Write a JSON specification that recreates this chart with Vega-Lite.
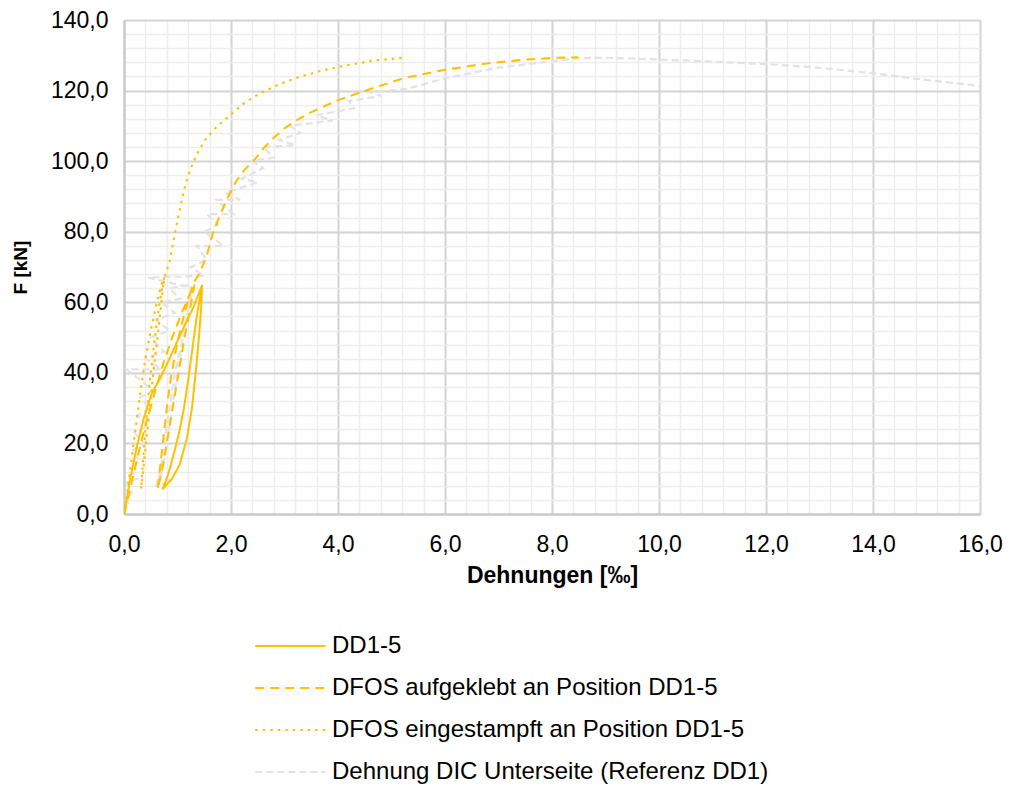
{
  "$schema": "https://vega.github.io/schema/vega-lite/v6.json",
  "autosize": {"type": "none"},
  "width": 856,
  "height": 494,
  "padding": {"left": 124, "top": 20, "right": 30, "bottom": 278},
  "background": "white",
  "config": {
    "locale": {"number": {"decimal": ",", "thousands": ".", "grouping": [3], "currency": ["", " €"]}},
    "view": {"stroke": null},
    "font": "Liberation Sans"
  },
  "data": {"values": [
    {"s":"DIC","i":1,"x":0,"f":0},{"s":"DIC","i":2,"x":0.08,"f":3},{"s":"DIC","i":3,"x":0.02,"f":5},{"s":"DIC","i":4,"x":0.15,"f":6},{"s":"DIC","i":5,"x":0.05,"f":9},{"s":"DIC","i":6,"x":0.25,"f":10},{"s":"DIC","i":7,"x":0.12,"f":13},{"s":"DIC","i":8,"x":0.3,"f":15},{"s":"DIC","i":9,"x":0.15,"f":18},{"s":"DIC","i":10,"x":0.38,"f":20},{"s":"DIC","i":11,"x":0.2,"f":23},{"s":"DIC","i":12,"x":0.45,"f":25},{"s":"DIC","i":13,"x":0.25,"f":28},{"s":"DIC","i":14,"x":0.5,"f":30},{"s":"DIC","i":15,"x":0.3,"f":33},{"s":"DIC","i":16,"x":0.55,"f":35},{"s":"DIC","i":17,"x":0.05,"f":41},{"s":"DIC","i":18,"x":0.7,"f":41},{"s":"DIC","i":19,"x":0.4,"f":44},{"s":"DIC","i":20,"x":0.75,"f":46},{"s":"DIC","i":21,"x":0.5,"f":50},{"s":"DIC","i":22,"x":0.85,"f":52},{"s":"DIC","i":23,"x":0.6,"f":55},{"s":"DIC","i":24,"x":0.95,"f":57},{"s":"DIC","i":25,"x":0.7,"f":60},{"s":"DIC","i":26,"x":1.05,"f":61},{"s":"DIC","i":27,"x":0.85,"f":64},{"s":"DIC","i":28,"x":1.25,"f":65},
    {"s":"DIC","i":29,"x":1.2,"f":58},{"s":"DIC","i":30,"x":1.1,"f":50},{"s":"DIC","i":31,"x":0.95,"f":40},{"s":"DIC","i":32,"x":0.85,"f":30},{"s":"DIC","i":33,"x":0.75,"f":20},{"s":"DIC","i":34,"x":0.68,"f":12},{"s":"DIC","i":35,"x":0.6,"f":8},{"s":"DIC","i":36,"x":0.9,"f":9},{"s":"DIC","i":37,"x":0.7,"f":11},{"s":"DIC","i":38,"x":0.8,"f":20},{"s":"DIC","i":39,"x":0.9,"f":30},{"s":"DIC","i":40,"x":1.0,"f":40},{"s":"DIC","i":41,"x":1.1,"f":50},{"s":"DIC","i":42,"x":1.2,"f":58},{"s":"DIC","i":43,"x":1.3,"f":64},{"s":"DIC","i":44,"x":0.45,"f":67},{"s":"DIC","i":45,"x":1.5,"f":67.5},{"s":"DIC","i":46,"x":1.25,"f":70},{"s":"DIC","i":47,"x":1.55,"f":72},{"s":"DIC","i":48,"x":1.36,"f":76},{"s":"DIC","i":49,"x":1.86,"f":76},{"s":"DIC","i":50,"x":1.5,"f":80},{"s":"DIC","i":51,"x":1.75,"f":82},{"s":"DIC","i":52,"x":1.55,"f":85},{"s":"DIC","i":53,"x":2.04,"f":85},{"s":"DIC","i":54,"x":1.73,"f":89},{"s":"DIC","i":55,"x":2.17,"f":89},{"s":"DIC","i":56,"x":1.9,"f":91},{"s":"DIC","i":57,"x":2.5,"f":94},{"s":"DIC","i":58,"x":2.2,"f":95},{"s":"DIC","i":59,"x":2.6,"f":98},{"s":"DIC","i":60,"x":2.4,"f":100},{"s":"DIC","i":61,"x":2.8,"f":101},{"s":"DIC","i":62,"x":2.6,"f":104},{"s":"DIC","i":63,"x":3.2,"f":104.5},{"s":"DIC","i":64,"x":2.9,"f":106},{"s":"DIC","i":65,"x":3.3,"f":108},{"s":"DIC","i":66,"x":3.1,"f":110},{"s":"DIC","i":67,"x":3.9,"f":111.5},{"s":"DIC","i":68,"x":3.6,"f":113},{"s":"DIC","i":69,"x":4.3,"f":115},{"s":"DIC","i":70,"x":4.2,"f":117},{"s":"DIC","i":71,"x":4.8,"f":118.5},{"s":"DIC","i":72,"x":4.6,"f":119.5},{"s":"DIC","i":73,"x":5.3,"f":120.5},{"s":"DIC","i":74,"x":6.0,"f":123.5},{"s":"DIC","i":75,"x":7.0,"f":126.5},{"s":"DIC","i":76,"x":8.0,"f":128.3},{"s":"DIC","i":77,"x":8.5,"f":129.2},{"s":"DIC","i":78,"x":9.0,"f":129.3},{"s":"DIC","i":79,"x":10.0,"f":128.8},{"s":"DIC","i":80,"x":11.0,"f":128.2},{"s":"DIC","i":81,"x":12.0,"f":127.5},{"s":"DIC","i":82,"x":12.7,"f":126.8},{"s":"DIC","i":83,"x":13.3,"f":126},{"s":"DIC","i":84,"x":14.0,"f":124.9},{"s":"DIC","i":85,"x":15.0,"f":123},{"s":"DIC","i":86,"x":16.0,"f":121.3},
    {"s":"DD","i":1,"x":0,"f":0},{"s":"DD","i":2,"x":0.05,"f":4},{"s":"DD","i":3,"x":0.11,"f":9.6},{"s":"DD","i":4,"x":0.24,"f":19},{"s":"DD","i":5,"x":0.36,"f":26.6},{"s":"DD","i":6,"x":0.52,"f":34.2},{"s":"DD","i":7,"x":0.66,"f":38},{"s":"DD","i":8,"x":0.82,"f":43},{"s":"DD","i":9,"x":0.98,"f":48.4},{"s":"DD","i":10,"x":1.15,"f":54},{"s":"DD","i":11,"x":1.3,"f":58.7},{"s":"DD","i":12,"x":1.46,"f":64.9},{"s":"DD","i":13,"x":1.44,"f":58},{"s":"DD","i":14,"x":1.4,"f":50},{"s":"DD","i":15,"x":1.34,"f":40},{"s":"DD","i":16,"x":1.27,"f":30},{"s":"DD","i":17,"x":1.17,"f":21},{"s":"DD","i":18,"x":1.04,"f":14},{"s":"DD","i":19,"x":0.9,"f":10},{"s":"DD","i":20,"x":0.72,"f":7},{"s":"DD","i":21,"x":0.82,"f":11},{"s":"DD","i":22,"x":0.93,"f":17},{"s":"DD","i":23,"x":1.03,"f":23},{"s":"DD","i":24,"x":1.12,"f":30},{"s":"DD","i":25,"x":1.2,"f":38},{"s":"DD","i":26,"x":1.28,"f":47},{"s":"DD","i":27,"x":1.36,"f":56},{"s":"DD","i":28,"x":1.46,"f":64.9},
    {"s":"AUF","i":1,"x":0,"f":0},{"s":"AUF","i":2,"x":0.1,"f":6},{"s":"AUF","i":3,"x":0.25,"f":16},{"s":"AUF","i":4,"x":0.4,"f":25},{"s":"AUF","i":5,"x":0.55,"f":33},{"s":"AUF","i":6,"x":0.72,"f":42},{"s":"AUF","i":7,"x":0.9,"f":50},{"s":"AUF","i":8,"x":1.08,"f":57},{"s":"AUF","i":9,"x":1.22,"f":62},{"s":"AUF","i":10,"x":1.32,"f":65},{"s":"AUF","i":11,"x":1.22,"f":57},{"s":"AUF","i":12,"x":1.12,"f":49},{"s":"AUF","i":13,"x":1.02,"f":40},{"s":"AUF","i":14,"x":0.92,"f":31},{"s":"AUF","i":15,"x":0.82,"f":22},{"s":"AUF","i":16,"x":0.72,"f":13},{"s":"AUF","i":17,"x":0.63,"f":7},{"s":"AUF","i":18,"x":0.68,"f":14},{"s":"AUF","i":19,"x":0.74,"f":22},{"s":"AUF","i":20,"x":0.8,"f":30},{"s":"AUF","i":21,"x":0.87,"f":38},{"s":"AUF","i":22,"x":0.95,"f":45},{"s":"AUF","i":23,"x":1.05,"f":52},{"s":"AUF","i":24,"x":1.15,"f":58},{"s":"AUF","i":25,"x":1.25,"f":63},{"s":"AUF","i":26,"x":1.32,"f":66},{"s":"AUF","i":27,"x":1.42,"f":68.5},{"s":"AUF","i":28,"x":1.55,"f":73.4},{"s":"AUF","i":29,"x":1.65,"f":79},{"s":"AUF","i":30,"x":1.75,"f":83},{"s":"AUF","i":31,"x":1.86,"f":87},{"s":"AUF","i":32,"x":1.98,"f":91},{"s":"AUF","i":33,"x":2.11,"f":94.6},{"s":"AUF","i":34,"x":2.25,"f":97.5},{"s":"AUF","i":35,"x":2.42,"f":100},{"s":"AUF","i":36,"x":2.6,"f":103.5},{"s":"AUF","i":37,"x":2.79,"f":106.5},{"s":"AUF","i":38,"x":3.0,"f":109.3},{"s":"AUF","i":39,"x":3.23,"f":111.6},{"s":"AUF","i":40,"x":3.45,"f":113.5},{"s":"AUF","i":41,"x":3.66,"f":115},{"s":"AUF","i":42,"x":4.04,"f":117.5},{"s":"AUF","i":43,"x":4.54,"f":120.1},{"s":"AUF","i":44,"x":5.22,"f":123.5},{"s":"AUF","i":45,"x":5.97,"f":125.8},{"s":"AUF","i":46,"x":6.78,"f":127.7},{"s":"AUF","i":47,"x":7.53,"f":128.8},{"s":"AUF","i":48,"x":8.09,"f":129.3},{"s":"AUF","i":49,"x":8.49,"f":129.4},
    {"s":"EIN","i":1,"x":0,"f":0},{"s":"EIN","i":2,"x":0.06,"f":6},{"s":"EIN","i":3,"x":0.12,"f":13},{"s":"EIN","i":4,"x":0.18,"f":20},{"s":"EIN","i":5,"x":0.25,"f":28},{"s":"EIN","i":6,"x":0.32,"f":36},{"s":"EIN","i":7,"x":0.4,"f":44},{"s":"EIN","i":8,"x":0.5,"f":52},{"s":"EIN","i":9,"x":0.6,"f":59},{"s":"EIN","i":10,"x":0.7,"f":65},{"s":"EIN","i":11,"x":0.75,"f":67},{"s":"EIN","i":12,"x":0.7,"f":60},{"s":"EIN","i":13,"x":0.64,"f":52},{"s":"EIN","i":14,"x":0.57,"f":43},{"s":"EIN","i":15,"x":0.5,"f":33},{"s":"EIN","i":16,"x":0.43,"f":23},{"s":"EIN","i":17,"x":0.37,"f":14},{"s":"EIN","i":18,"x":0.32,"f":7},{"s":"EIN","i":19,"x":0.35,"f":14},{"s":"EIN","i":20,"x":0.39,"f":22},{"s":"EIN","i":21,"x":0.44,"f":31},{"s":"EIN","i":22,"x":0.5,"f":40},{"s":"EIN","i":23,"x":0.56,"f":48},{"s":"EIN","i":24,"x":0.63,"f":56},{"s":"EIN","i":25,"x":0.7,"f":63},{"s":"EIN","i":26,"x":0.78,"f":68},{"s":"EIN","i":27,"x":0.86,"f":72},{"s":"EIN","i":28,"x":0.95,"f":79.5},{"s":"EIN","i":29,"x":1.01,"f":84},{"s":"EIN","i":30,"x":1.08,"f":89},{"s":"EIN","i":31,"x":1.16,"f":94},{"s":"EIN","i":32,"x":1.26,"f":98.4},{"s":"EIN","i":33,"x":1.38,"f":102.5},{"s":"EIN","i":34,"x":1.54,"f":106.5},{"s":"EIN","i":35,"x":1.75,"f":110},{"s":"EIN","i":36,"x":1.98,"f":113},{"s":"EIN","i":37,"x":2.25,"f":116.5},{"s":"EIN","i":38,"x":2.54,"f":119.2},{"s":"EIN","i":39,"x":2.9,"f":121.8},{"s":"EIN","i":40,"x":3.29,"f":123.9},{"s":"EIN","i":41,"x":3.65,"f":125.5},{"s":"EIN","i":42,"x":4.04,"f":126.8},{"s":"EIN","i":43,"x":4.66,"f":128.5},{"s":"EIN","i":44,"x":5.22,"f":129.3}
  ]},
  "encoding": {
    "color": {
      "field": "s", "type": "nominal",
      "scale": {"domain": ["DD", "AUF", "EIN", "DIC"], "range": ["#FFC000", "#FFC000", "#FFC000", "#E3E3E3"]},
      "legend": {
        "orient": "none", "legendX": 128, "legendY": 614, "title": null,
        "symbolType": "M-1,0H7", "symbolSize": 306.25, "symbolStrokeWidth": 2, "symbolFillColor": "transparent",
        "labelFontSize": 24, "labelColor": "#000000", "labelFont": "Liberation Sans",
        "rowPadding": 18, "labelOffset": 56, "labelLimit": 700,
        "labelExpr": "datum.value == 'DD' ? 'DD1-5' : datum.value == 'AUF' ? 'DFOS aufgeklebt an Position DD1-5' : datum.value == 'EIN' ? 'DFOS eingestampft an Position DD1-5' : 'Dehnung DIC Unterseite (Referenz DD1)'"
      }
    },
    "strokeDash": {
      "field": "s", "type": "nominal",
      "scale": {"domain": ["DD", "AUF", "EIN", "DIC"], "range": [[1, 0], [9, 6], [2.5, 5], [7, 4]]},
      "legend": null
    },
    "strokeWidth": {
      "field": "s", "type": "nominal",
      "scale": {"domain": ["DD", "AUF", "EIN", "DIC"], "range": [2, 2.2, 2.6, 2]},
      "legend": null
    },
    "order": {"field": "i", "type": "quantitative"}
  },
  "layer": [
    {
      "transform": [{"filter": "datum.s == 'DIC'"}],
      "mark": {"type": "line", "clip": true},
      "encoding": {
        "x": {"field": "x", "type": "quantitative", "scale": {"domain": [0, 16], "nice": false},
          "axis": {"orient": "bottom", "values": [0.4,0.8,1.2,1.6,2.4,2.8,3.2,3.6,4.4,4.8,5.2,5.6,6.4,6.8,7.2,7.6,8.4,8.8,9.2,9.6,10.4,10.8,11.2,11.6,12.4,12.8,13.2,13.6,14.4,14.8,15.2,15.6],
            "grid": true, "gridColor": "#EDEDED", "gridWidth": 1.5, "labels": false, "ticks": false, "domain": false, "title": null}},
        "y": {"field": "f", "type": "quantitative", "scale": {"domain": [0, 140], "nice": false},
          "axis": {"orient": "left", "values": [4,8,12,16,24,28,32,36,44,48,52,56,64,68,72,76,84,88,92,96,104,108,112,116,124,128,132,136],
            "grid": true, "gridColor": "#EDEDED", "gridWidth": 1.5, "labels": false, "ticks": false, "domain": false, "title": null}}
      }
    },
    {
      "transform": [{"filter": "datum.s != 'DIC'"}],
      "mark": {"type": "line", "clip": true},
      "encoding": {
        "x": {"field": "x", "type": "quantitative", "scale": {"domain": [0, 16], "nice": false},
          "axis": {"orient": "bottom", "values": [0,2,4,6,8,10,12,14,16], "format": ".1f",
            "grid": true, "gridColor": "#D4D4D4", "gridWidth": 2, "ticks": false, "domain": true, "domainColor": "#C8C8C8", "domainWidth": 2,
            "labelFontSize": 23, "labelColor": "#000000", "labelPadding": 19, "labelFont": "Liberation Sans", "labelFlush": false,
            "title": "Dehnungen [‰]", "titleFontSize": 23, "titleFontWeight": "bold", "titleColor": "#000000", "titlePadding": 8, "titleFont": "Liberation Sans"}},
        "y": {"field": "f", "type": "quantitative", "scale": {"domain": [0, 140], "nice": false},
          "axis": {"orient": "left", "values": [0,20,40,60,80,100,120,140], "format": ".1f",
            "grid": true, "gridColor": "#D4D4D4", "gridWidth": 2, "ticks": false, "domain": true, "domainColor": "#C8C8C8", "domainWidth": 2,
            "labelFontSize": 23, "labelColor": "#000000", "labelPadding": 16, "labelFont": "Liberation Sans", "labelFlush": false,
            "title": "F [kN]", "titleFontSize": 19, "titleFontWeight": "bold", "titleColor": "#000000", "titlePadding": 20, "titleFont": "Liberation Sans"}}
      }
    }
  ],
  "resolve": {"axis": {"x": "independent", "y": "independent"}}
}
